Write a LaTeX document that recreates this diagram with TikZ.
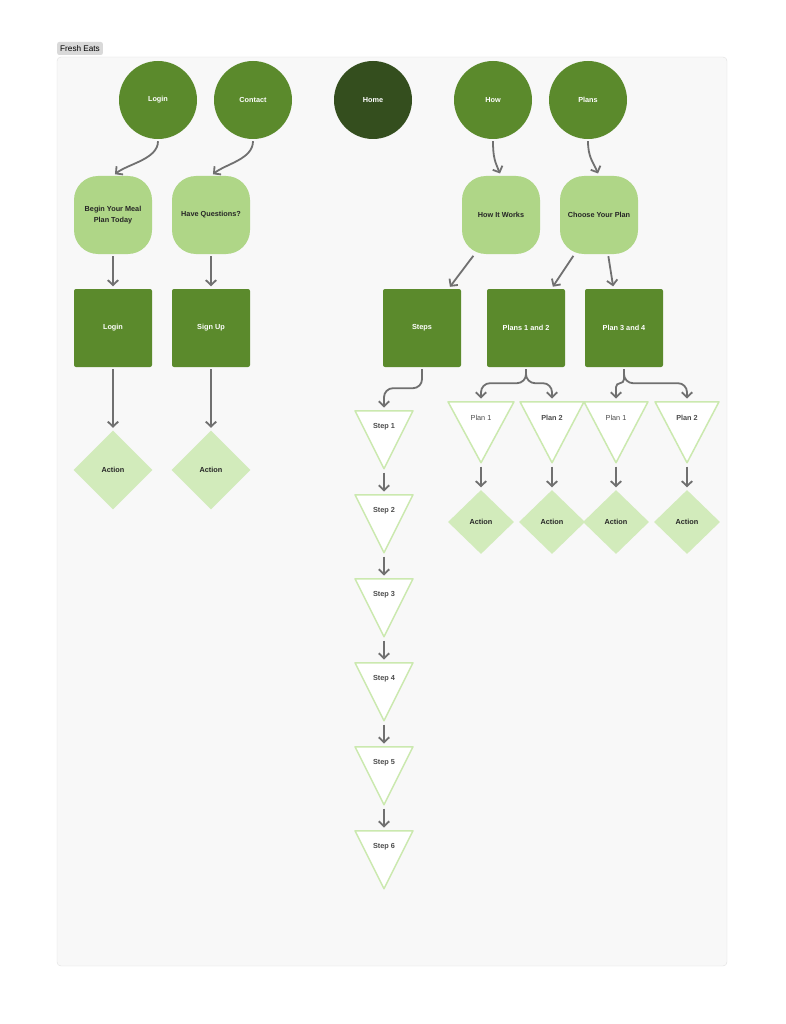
\documentclass[tikz,border=0pt]{standalone}
\usepackage{fontspec}
\setmainfont{Liberation Sans}
\usetikzlibrary{shapes.geometric,arrows.meta}

\definecolor{leaf}{HTML}{5B8A2C}
\definecolor{forest}{HTML}{344E1E}
\definecolor{sprout}{HTML}{AFD687}
\definecolor{mint}{HTML}{D2EBBB}
\definecolor{mintline}{HTML}{CBE9AF}
\definecolor{linkgray}{HTML}{707070}
\definecolor{panel}{HTML}{F8F8F8}

\begin{document}
\begin{tikzpicture}[x=1pt, y=-1pt,
  every node/.style={font=\fontsize{7.3}{11}\selectfont\bfseries},
  page/.style={circle, fill=leaf, text=white, minimum size=78pt, inner sep=0pt},
  intro/.style={rectangle, rounded corners=24pt, fill=sprout, text=black!85,
    minimum size=78pt, align=center},
  block/.style={rectangle, rounded corners=2pt, fill=leaf, text=white, minimum size=78pt},
  act/.style={diamond, fill=mint, text=black!85, inner sep=0pt},
  tri/.style={isosceles triangle, isosceles triangle stretches, shape border rotate=270,
    fill=white, draw=mintline, line width=1.5pt, line join=round, inner sep=0pt},
  tritext/.style={text=black!70},
  link/.style={draw=linkgray, line width=1.8pt, shorten <=2pt, shorten >=2.5pt,
    -{Straight Barb[length=5pt,width=10.5pt]}},
]
  \useasboundingbox (0,0) rectangle (785,1024);

  % Board
  \draw[draw=black!12, fill=panel, rounded corners=4pt] (57,57) rectangle (727,966);
  \node[fill=black!15, rounded corners=2pt, anchor=west, minimum height=13pt, inner xsep=3pt,
    font=\fontsize{8.2}{10}\selectfont] (tag) at (57,48.5) {Fresh Eats};

  % Top level pages
  \node[page] (login) at (158,100) {Login};
  \node[page] (contact) at (253,100) {Contact};
  \node[page, fill=forest] (home) at (373,100) {Home};
  \node[page] (how) at (493,100) {How};
  \node[page] (plans) at (588,100) {Plans};

  % Intro sections
  \node[intro] (begin) at (113,215) {Begin Your Meal\\Plan Today};
  \node[intro] (questions) at (211,215) {Have Questions?};
  \node[intro] (works) at (501,215) {How It Works};
  \node[intro] (choose) at (599,215) {Choose Your Plan};

  % Blocks
  \node[block] (signin) at (113,328) {Login};
  \node[block] (signup) at (211,328) {Sign Up};
  \node[block] (steps) at (422,328) {Steps};
  \node[block] (planab) at (526,328) {Plans 1 and 2};
  \node[block] (plancd) at (624,328) {Plan 3 and 4};

  % Actions (left)
  \node[act, minimum width=79pt, minimum height=79pt] (act1) at (113,470) {Action};
  \node[act, minimum width=79pt, minimum height=79pt] (act2) at (211,470) {Action};

  % Steps column
  \node[tri, anchor=lower side, minimum width=58pt, minimum height=58pt] (s1) at (384,410) {};
  \node[tri, anchor=lower side, minimum width=58pt, minimum height=58pt] (s2) at (384,494) {};
  \node[tri, anchor=lower side, minimum width=58pt, minimum height=58pt] (s3) at (384,578) {};
  \node[tri, anchor=lower side, minimum width=58pt, minimum height=58pt] (s4) at (384,662) {};
  \node[tri, anchor=lower side, minimum width=58pt, minimum height=58pt] (s5) at (384,746) {};
  \node[tri, anchor=lower side, minimum width=58pt, minimum height=58pt] (s6) at (384,830) {};
  \node[tritext] (s1t) at (384,427) {Step 1};
  \node[tritext] (s2t) at (384,511) {Step 2};
  \node[tritext] (s3t) at (384,595) {Step 3};
  \node[tritext] (s4t) at (384,679) {Step 4};
  \node[tritext] (s5t) at (384,763) {Step 5};
  \node[tritext] (s6t) at (384,847) {Step 6};

  % Plan triangles
  \node[tri, anchor=lower side, minimum width=66pt, minimum height=61pt] (pa) at (481,401) {};
  \node[tri, anchor=lower side, minimum width=64pt, minimum height=61pt] (pb) at (552,401) {};
  \node[tri, anchor=lower side, minimum width=64pt, minimum height=61pt] (pc) at (616,401) {};
  \node[tri, anchor=lower side, minimum width=64pt, minimum height=61pt] (pd) at (687,401) {};
  \node[tritext, font=\fontsize{7.3}{9}\selectfont] (pat) at (481,418) {Plan 1};
  \node[tritext] (pbt) at (552,418) {Plan 2};
  \node[tritext, font=\fontsize{7.3}{9}\selectfont] (pct) at (616,418) {Plan 1};
  \node[tritext] (pdt) at (687,418) {Plan 2};

  % Actions (right)
  \node[act, minimum width=66pt, minimum height=64pt] (act3) at (481,522) {Action};
  \node[act, minimum width=66pt, minimum height=64pt] (act4) at (552,522) {Action};
  \node[act, minimum width=66pt, minimum height=64pt] (act5) at (616,522) {Action};
  \node[act, minimum width=66pt, minimum height=64pt] (act6) at (687,522) {Action};

  % Curved links from the pages
  \draw[link] (login.south) .. controls +(0,20) and +(15,-12) .. (begin.north);
  \draw[link] (contact.south) .. controls +(0,20) and +(15,-12) .. (questions.north);
  \draw[link] (how.south) .. controls +(0,18) and +(-6,-14) .. (works.north);
  \draw[link] (plans.south) .. controls +(0,18) and +(-6,-14) .. (choose.north);

  % Straight links
  \draw[link] (begin) -- (signin);
  \draw[link] (questions) -- (signup);
  \draw[link] (signin) -- (act1);
  \draw[link] (signup) -- (act2);
  \draw[link] (works.236) -- (steps.56);
  \draw[link] (choose.238) -- (planab.57);
  \draw[link] (choose.283) -- (plancd.105);

  % Branches
  \draw[link, rounded corners=9pt] (steps.south) -- ++(0,21) -| (s1.lower side);
  \draw[link, rounded corners=9pt] (planab.south) -- ++(0,16) -| (pa.lower side);
  \draw[link, rounded corners=9pt] (planab.south) -- ++(0,16) -| (pb.lower side);
  \draw[link, rounded corners=4pt] (plancd.south) -- ++(0,16) -| (pc.lower side);
  \draw[link, rounded corners=9pt] (plancd.south) -- ++(0,16) -| (pd.lower side);

  % Step chain
  \draw[link] (s1.apex) -- (s2.lower side);
  \draw[link] (s2.apex) -- (s3.lower side);
  \draw[link] (s3.apex) -- (s4.lower side);
  \draw[link] (s4.apex) -- (s5.lower side);
  \draw[link] (s5.apex) -- (s6.lower side);

  % Plans to actions
  \draw[link] (pa.apex) -- (act3.north);
  \draw[link] (pb.apex) -- (act4.north);
  \draw[link] (pc.apex) -- (act5.north);
  \draw[link] (pd.apex) -- (act6.north);
\end{tikzpicture}
\end{document}
